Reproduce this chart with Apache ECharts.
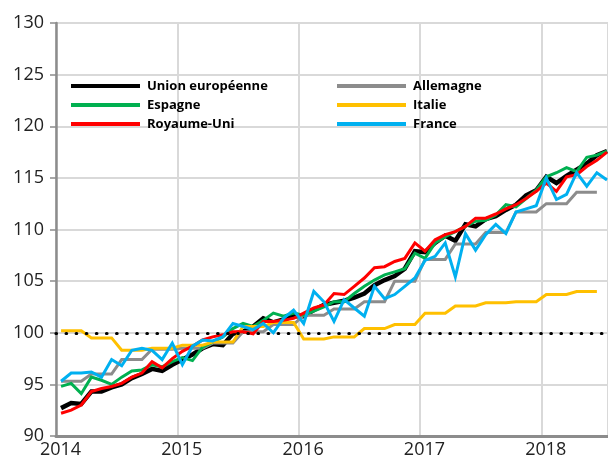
<!DOCTYPE html>
<html>
<head>
<meta charset="utf-8">
<script src="https://cdn.jsdelivr.net/npm/echarts@6/dist/echarts.min.js"></script>
<style>
  html, body { margin: 0; padding: 0; background: #fff; }
  #chart { width: 608px; height: 459px; }
</style>
</head>
<body>
<div id="chart"></div>
<script>
const months = [
  '2014-01', '2014-02', '2014-03', '2014-04', '2014-05', '2014-06', '2014-07', '2014-08', '2014-09', '2014-10', '2014-11', '2014-12',
  '2015-01', '2015-02', '2015-03', '2015-04', '2015-05', '2015-06', '2015-07', '2015-08', '2015-09', '2015-10', '2015-11', '2015-12',
  '2016-01', '2016-02', '2016-03', '2016-04', '2016-05', '2016-06', '2016-07', '2016-08', '2016-09', '2016-10', '2016-11', '2016-12',
  '2017-01', '2017-02', '2017-03', '2017-04', '2017-05', '2017-06', '2017-07', '2017-08', '2017-09', '2017-10', '2017-11', '2017-12',
  '2018-01', '2018-02', '2018-03', '2018-04', '2018-05', '2018-06', '2018-07'
];

const unionEuropeenne = [
  92.7, 93.2, 93.1, 94.3, 94.3, 94.7, 95.0, 95.6, 96.0, 96.5, 96.3, 96.9,
  97.4, 97.9, 98.5, 98.9, 98.8, 99.9, 100.1, 100.6, 101.4, 101.0, 101.3, 101.6,
  101.6, 102.2, 102.7, 102.9, 103.1, 103.4, 103.8, 104.6, 105.1, 105.5, 106.2, 107.9,
  107.8, 108.7, 109.4, 108.9, 110.5, 110.3, 111.0, 111.3, 111.9, 112.4, 113.3, 113.8,
  115.1, 114.5, 115.2, 115.8, 116.4, 117.2, 117.6
];

const espagne = [
  94.8, 95.1, 94.1, 95.7, 95.4, 95.0, 95.7, 96.3, 96.4, 96.9, 96.7, 97.2,
  97.6, 97.3, 98.6, 99.1, 99.6, 100.4, 100.9, 100.6, 101.2, 101.9, 101.6, 101.9,
  101.7, 102.1, 102.5, 103.0, 103.0, 103.8, 104.5, 105.1, 105.6, 105.9, 106.2, 107.7,
  107.2, 108.7, 109.3, 109.8, 110.3, 110.8, 110.9, 111.4, 112.4, 112.2, 113.0, 113.8,
  115.1, 115.5, 116.0, 115.6, 117.0, 117.2, 117.6
];

const royaumeUni = [
  92.2, 92.5, 93.0, 94.3, 94.6, 94.8, 95.1, 95.7, 96.1, 97.2, 96.6, 97.5,
  98.2, 98.7, 99.3, 99.6, 99.8, 100.1, 100.1, 99.9, 101.1, 101.1, 101.2, 101.4,
  101.9, 102.4, 102.7, 103.8, 103.7, 104.5, 105.3, 106.3, 106.4, 106.9, 107.2, 108.7,
  107.9, 109.0, 109.5, 109.8, 110.3, 111.1, 111.1, 111.5, 112.0, 112.4, 113.0, 113.7,
  114.5, 113.7, 115.1, 115.3, 116.1, 116.7, 117.5
];

const france = [
  95.3, 96.1, 96.1, 96.2, 95.7, 97.4, 96.8, 98.3, 98.5, 98.3, 97.4, 99.0,
  96.9, 98.7, 99.3, 99.2, 99.6, 100.9, 100.6, 100.3, 100.9, 100.0, 101.4, 102.2,
  100.9, 104.0, 103.0, 101.1, 103.2, 102.4, 101.6, 104.5, 103.3, 103.7, 104.5, 105.3,
  107.0, 107.4, 108.7, 105.4, 109.6, 108.0, 109.5, 110.5, 109.6, 111.7, 112.0, 112.3,
  115.0, 112.9, 113.4, 115.5, 114.2, 115.5, 114.8
];

// quarterly figures, shown on each month of the quarter
const allemagne = [
  95.3, 95.3, 95.3, 96.0, 96.0, 96.0, 97.4, 97.4, 97.4, 98.4, 98.4, 98.4,
  98.5, 98.5, 98.5, 99.0, 99.0, 99.0, 100.1, 100.1, 100.1, 100.8, 100.8, 100.8,
  101.7, 101.7, 101.7, 102.3, 102.3, 102.3, 103.0, 103.0, 103.0, 105.0, 105.0, 105.0,
  107.1, 107.1, 107.1, 108.6, 108.6, 108.6, 109.7, 109.7, 109.7, 111.7, 111.7, 111.7,
  112.5, 112.5, 112.5, 113.6, 113.6, 113.6
];

const italie = [
  100.2, 100.2, 100.2, 99.5, 99.5, 99.5, 98.3, 98.3, 98.3, 98.5, 98.5, 98.5,
  98.8, 98.8, 98.8, 99.1, 99.1, 99.1, 100.6, 100.6, 100.6, 101.0, 101.0, 101.0,
  99.4, 99.4, 99.4, 99.6, 99.6, 99.6, 100.4, 100.4, 100.4, 100.8, 100.8, 100.8,
  101.9, 101.9, 101.9, 102.6, 102.6, 102.6, 102.9, 102.9, 102.9, 103.0, 103.0, 103.0,
  103.7, 103.7, 103.7, 104.0, 104.0, 104.0
];

const yearTicks = [2014, 2015, 2016, 2017, 2018];

const FONT = '"Open Sans", "DejaVu Sans", sans-serif';

function toYear(m) {
  const [y, mo] = m.split('-').map(Number);
  return y + (mo - 0.5) / 12;
}

function pairs(values) {
  return values.map((v, i) => [toYear(months[i]), v]);
}

function lineSeries(name, values, color, width) {
  return {
    name: name,
    type: 'line',
    data: pairs(values),
    showSymbol: false,
    symbol: 'none',
    color: color,
    lineStyle: { color: color, width: width, join: 'miter' },
    emphasis: { disabled: true },
    animation: false
  };
}

const chart = echarts.init(document.getElementById('chart'));

const legendBase = {
  orient: 'vertical',
  top: 79,
  padding: 0,
  itemWidth: 69,
  itemHeight: 4,
  itemGap: 5,
  icon: 'rect',
  selectedMode: false,
  textStyle: { fontFamily: FONT, fontWeight: 'bold', fontSize: 13, color: '#000', lineHeight: 14, padding: [0, 0, 0, 2] }
};

const euSeries = lineSeries('Union européenne', unionEuropeenne, '#000000', 4.5);
euSeries.markLine = {
  silent: true,
  symbol: ['none', 'none'],
  label: { show: false },
  lineStyle: { color: '#000', width: 3.2, type: [0.5, 9.6], cap: 'round' },
  data: [{ yAxis: 100 }]
};

chart.setOption({
  backgroundColor: '#fff',
  animation: false,
  grid: { left: 56, right: 0, top: 23, bottom: 23, containLabel: false },
  legend: [
    Object.assign({}, legendBase, { left: 71, data: ['Union européenne', 'Espagne', 'Royaume-Uni'] }),
    Object.assign({}, legendBase, { left: 337, data: ['Allemagne', 'Italie', 'France'] })
  ],
  xAxis: {
    type: 'value',
    min: yearTicks[0],
    max: 2018.55,
    interval: 1,
    axisLine: { show: true, onZero: false, lineStyle: { color: '#8c8c8c', width: 3 } },
    axisTick: { show: false },
    axisLabel: {
      fontFamily: FONT, fontSize: 18, color: '#222', margin: 5,
      padding: [0, 0, 0, 9], showMaxLabel: false,
      formatter: v => yearTicks.includes(v) ? String(v) : ''
    },
    splitLine: { show: true, lineStyle: { color: '#d9d9d9', width: 2 } }
  },
  yAxis: {
    type: 'value',
    min: 90,
    max: 130,
    interval: 5,
    axisLine: { show: true, lineStyle: { color: '#8c8c8c', width: 2.5 } },
    axisTick: { show: true, length: 6, lineStyle: { color: '#8c8c8c', width: 1.5 } },
    axisLabel: { fontFamily: FONT, fontSize: 18, color: '#222', margin: 12 },
    splitLine: { show: true, lineStyle: { color: '#d9d9d9', width: 2 } }
  },
  series: [
    euSeries,
    lineSeries('Allemagne', allemagne, '#8c8c8c', 3),
    lineSeries('Espagne', espagne, '#00b050', 3),
    lineSeries('Italie', italie, '#ffc000', 3),
    lineSeries('Royaume-Uni', royaumeUni, '#ff0000', 3),
    lineSeries('France', france, '#00b0f0', 3)
  ]
});
</script>
</body>
</html>
